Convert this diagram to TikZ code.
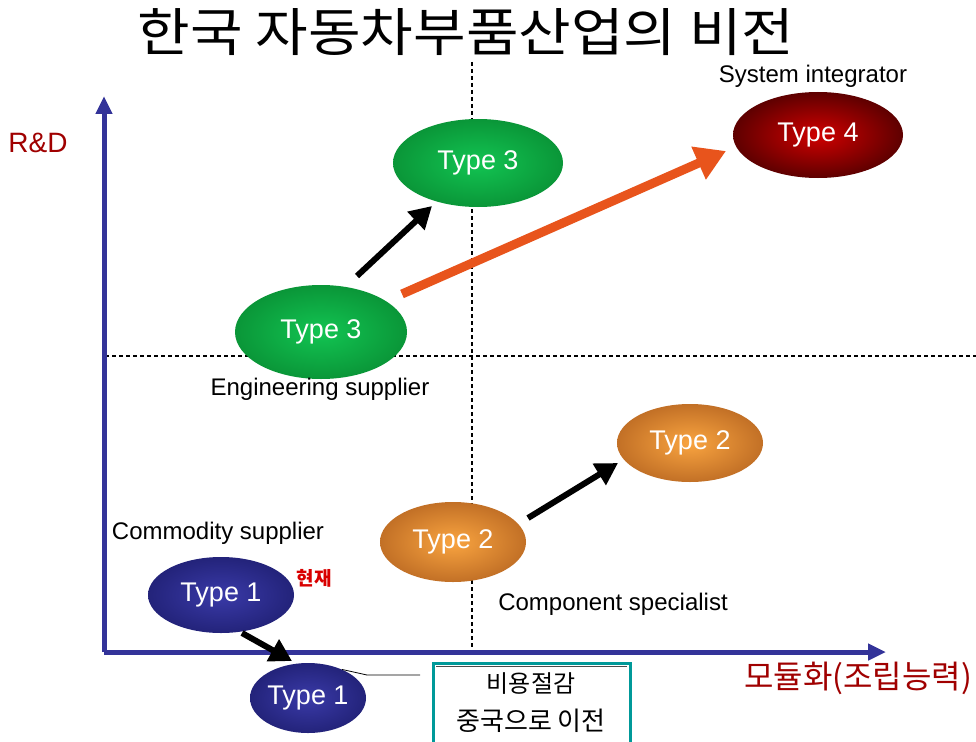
\documentclass[tikz,border=0pt]{standalone}
\usepackage{fontspec}
\setmainfont{Liberation Sans}
\newfontfamily\kr{Noto Sans CJK KR}
\usetikzlibrary{shapes.geometric,arrows.meta}
\definecolor{axisblue}{HTML}{333399}
\definecolor{darkred}{HTML}{A00000}
\definecolor{boxteal}{HTML}{009999}
\definecolor{arrorange}{HTML}{E8541C}
\definecolor{navyin}{HTML}{3A3AA8}
\definecolor{navyout}{HTML}{23237A}
\definecolor{greenin}{HTML}{12C452}
\definecolor{greenout}{HTML}{0A9638}
\definecolor{orangein}{HTML}{F9A440}
\definecolor{orangeout}{HTML}{C27026}
\definecolor{redin}{HTML}{D00000}
\definecolor{redout}{HTML}{5E0000}
\tikzset{
  ball/.style={ellipse, inner sep=0pt, text=white, font=\fontsize{27}{29}\selectfont},
  navyball/.style={ball, inner color=navyin, outer color=navyout},
  greenball/.style={ball, inner color=greenin, outer color=greenout},
  orangeball/.style={ball, inner color=orangein, outer color=orangeout},
  redball/.style={ball, inner color=redin, outer color=redout},
  lbl/.style={font=\fontsize{24}{26}\selectfont, text=black},
  bigarrow/.style={line width=6pt, -{Triangle[length=22pt,width=24pt]}},
  dashline/.style={line width=1.3pt, dash pattern=on 4pt off 3pt},
  axisline/.style={axisblue, line width=5pt, -{Triangle[length=18pt,width=16pt]}},
}
\begin{document}
\begin{tikzpicture}[x=1pt,y=-1pt]
\useasboundingbox[fill=white] (0,0) rectangle (976,741);
% title
\node[font=\kr\fontsize{52}{54}\selectfont, xscale=1.1] (title) at (466,32) {한국 자동차부품산업의 비전};
% dashed quadrant lines
\coordinate (vtop) at (472,62);
\coordinate (vbot) at (472,648);
\coordinate (hl) at (105,356);
\coordinate (hr) at (976,356);
\draw[dashline] (vtop) -- (vbot);
\draw[dashline] (hl) -- (hr);
% axes
\coordinate (origin) at (104,652);
\coordinate (ytip) at (104,96);
\coordinate (xtip) at (886,652);
\draw[axisline] (origin) -- (ytip);
\draw[axisline] (origin) -- (xtip);
\node[text=darkred, font=\fontsize{28}{30}\selectfont] (rd) at (38,143) {R\&D};
\node[text=darkred, font=\kr\fontsize{32}{34}\selectfont] (modul) at (858,678) {모듈화(조립능력)};
% ellipses
\node[redball, minimum width=170pt, minimum height=86pt] (t4) at (818,135) {Type 4};
\node[greenball, minimum width=170pt, minimum height=88pt] (t3b) at (478,163) {Type 3};
\node[greenball, minimum width=172pt, minimum height=94pt] (t3a) at (321,332) {Type 3};
\node[orangeball, minimum width=146pt, minimum height=78pt] (t2b) at (690,443) {Type 2};
\node[orangeball, minimum width=146pt, minimum height=80pt] (t2a) at (453,542) {Type 2};
\node[navyball, minimum width=146pt, minimum height=76pt] (t1a) at (221,595) {Type 1};
\node[navyball, minimum width=116pt, minimum height=70pt] (t1b) at (308,698) {Type 1};
% labels
\node[lbl] (sysint) at (813,76) {System integrator};
\node[lbl] (engsup) at (320,389) {Engineering supplier};
\node[lbl] (comsup) at (218,533) {Commodity supplier};
\node[lbl] (compspec) at (613,604) {Component specialist};
\node[text=red!85!black, font=\kr\bfseries\fontsize{19}{21}\selectfont] (now) at (314,578) {현재};
% arrows
\coordinate (a1s) at (357,276);
\coordinate (a1e) at (432,206);
\draw[bigarrow] (a1s) -- (a1e);
\coordinate (a2s) at (528,518);
\coordinate (a2e) at (618,463);
\draw[bigarrow] (a2s) -- (a2e);
\coordinate (a3s) at (242,633);
\coordinate (a3e) at (292,661);
\draw[bigarrow] (a3s) -- (a3e);
\coordinate (a4s) at (402,294);
\coordinate (a4e) at (726,151);
\draw[arrorange, line width=9pt, -{Triangle[length=30pt,width=34pt]}] (a4s) -- (a4e);
% box
\draw[boxteal, line width=3pt, fill=white] (433,663) rectangle (630,760);
\draw[black!70, line width=0.6pt] (436,666) -- (627,666);
\node[font=\kr\fontsize{24}{26}\selectfont] (box1) at (531,684) {비용절감};
\node[font=\kr\fontsize{26}{28}\selectfont] (box2) at (531,721) {중국으로 이전};
\coordinate (conn) at (420,675);
\draw[black, line width=0.8pt] (t1b.40) -- (367,675) -- (conn);
\end{tikzpicture}
\end{document}
